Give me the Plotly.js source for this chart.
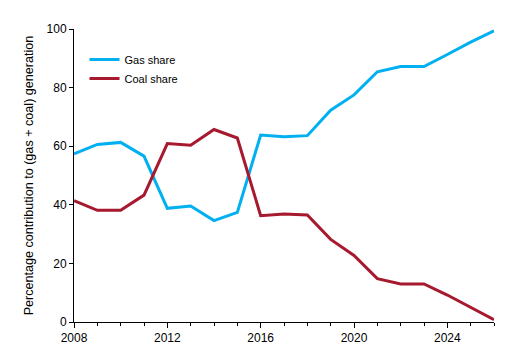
<!DOCTYPE html>
<html>
<head>
<meta charset="utf-8">
<script src="https://cdn.plot.ly/plotly-3.0.1.min.js"></script>
<style>html,body{margin:0;padding:0;background:#fff;}#chart{width:528px;height:362px;}</style>
</head>
<body>
<div id="chart"></div>
<script>
var years = [2008,2009,2010,2011,2012,2013,2014,2015,2016,2017,2018,2019,2020,2021,2022,2023,2024,2025,2026];
var gasShare = [57.4,60.6,61.3,56.6,38.8,39.6,34.6,37.4,63.8,63.2,63.6,72.3,77.5,85.4,87.2,87.2,91.3,95.5,99.4];
var coalShare = [41.4,38.1,38.1,43.3,60.9,60.3,65.7,62.8,36.3,36.9,36.5,28.2,22.7,14.8,13.0,13.0,9.2,4.9,0.8];
var xTickVals = [2008,2012,2016,2020,2024];
var yTickVals = [0,20,40,60,80,100];

var font = "Liberation Sans, Arial, sans-serif";
var traces = [
  {x: years, y: gasShare, name: "Gas share", mode: "lines", line: {color: "#00B0F0", width: 3}},
  {x: years, y: coalShare, name: "Coal share", mode: "lines", line: {color: "#A6192E", width: 3}}
];
var layout = {
  width: 528, height: 362,
  margin: {l: 74, r: 34, t: 29, b: 40},
  paper_bgcolor: "#fff", plot_bgcolor: "#fff",
  font: {family: font, size: 12, color: "#000"},
  showlegend: true,
  legend: {x: 0.025, y: 0.945, xanchor: "left", yanchor: "top", font: {family: font, size: 11, color: "#000"}, bgcolor: "rgba(0,0,0,0)", itemwidth: 30, tracegroupgap: 0},
  xaxis: {
    range: [2008, 2026], tickvals: xTickVals, ticktext: xTickVals.map(String),
    showgrid: false, zeroline: false, showline: true, linecolor: "#000", linewidth: 1,
    ticks: "outside", ticklen: 5, tickcolor: "#000", tickfont: {family: font, size: 12},
    minor: {dtick: 1, ticks: "outside", ticklen: 3, tickcolor: "#000", showgrid: false}
  },
  yaxis: {
    range: [0, 100], tickvals: yTickVals,
    showgrid: false, zeroline: false, showline: true, linecolor: "#000", linewidth: 1,
    ticks: "outside", ticklen: 4, tickcolor: "#000", tickfont: {family: font, size: 12},
    title: {text: "Percentage contribution to (gas + coal) generation", font: {family: font, size: 12.6}, standoff: 10}
  }
};
Plotly.newPlot("chart", traces, layout, {displayModeBar: false, staticPlot: true});
</script>
</body>
</html>
